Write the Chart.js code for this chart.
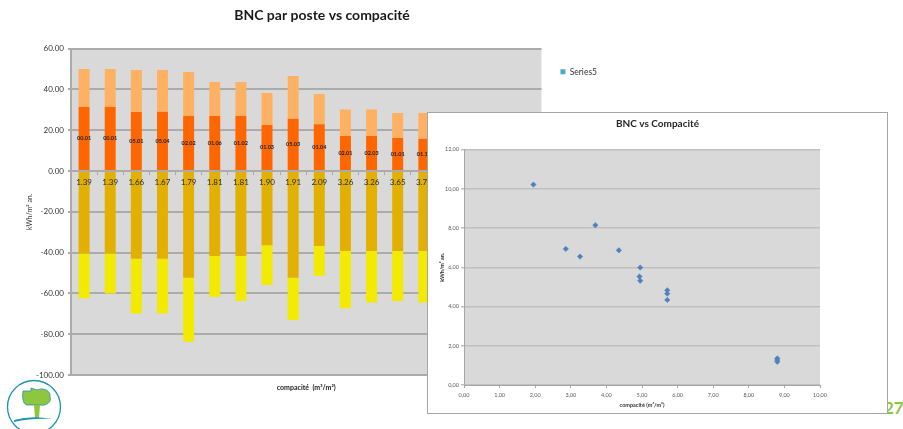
<!DOCTYPE html>
<html>
<head>
<meta charset="utf-8">
<script src="https://cdn.jsdelivr.net/npm/chart.js@4.4.1/dist/chart.umd.min.js"></script>
<style>
  html, body { margin: 0; padding: 0; background: #fff; }
  body { position: relative; width: 903px; height: 429px; overflow: hidden; font-family: Lato, "Open Sans", sans-serif; }
  #barCanvas { position: absolute; left: 0; top: 0; z-index: 0; }
  #logo { position: absolute; left: 4px; top: 378px; z-index: 1; }
  #pageNum { position: absolute; left: 884px; top: 399px; z-index: 1; font: bold 17px Lato, sans-serif; line-height: 1; color: #8DC63F; }
  #scatterBox { position: absolute; left: 427px; top: 112px; width: 459px; height: 300px; border: 1px solid #A6A6A6; background: #fff; z-index: 2; }
  #scatterCanvas { display: block; }
</style>
</head>
<body>
<canvas id="barCanvas" width="644" height="429"></canvas>

<svg id="logo" width="62" height="51" viewBox="0 0 62 51">
  <circle cx="30" cy="29" r="26.5" fill="none" stroke="#1E93AE" stroke-width="1.3"/>
  <path d="M19 13 L27 13 L27 10 L33 12 C40 9 47 13 46 19 C48 24 42 28 37 27 L23 27 C19 26 18 20 19 13 Z" fill="#8DC63F" stroke="#1E93AE" stroke-width="0.8"/>
  <path d="M30 27 L36 27 L35 40 L31 40 Z" fill="#8DC63F"/>
  <path d="M10 42 Q28 37 48 41 Q28 40 10 44 Z" fill="#1E93AE"/>
</svg>
<div id="pageNum">27</div>

<div id="scatterBox"><canvas id="scatterCanvas" width="459" height="300"></canvas></div>

<script>
// ---- BNC par poste : categories (compacité) and stacked segments (kWh/m² an.) ----
const compacite = ['1.39', '1.39', '1.66', '1.67', '1.79', '1.81', '1.81', '1.90', '1.91', '2.09',
                   '3.26', '3.26', '3.65', '3.74', '4.35', '4.95', '5.71', '8.80'];
const posteLabels = ['00.01', '00.01', '05.01', '05.04', '02.02', '01.06', '01.02', '01.03', '05.03', '01.04',
                     '02.01', '02.03', '01.01', '01.15', '03.02', '04.01', '03.05', '04.02'];
const series1 = [31.4, 31.4, 28.9, 29.0, 27.0, 27.0, 27.0, 22.5, 25.6, 22.9, 17.2, 17.2, 16.2, 15.8, 15.0, 14.2, 12.5, 8.6];
const series2 = [18.6, 18.6, 20.6, 20.5, 21.5, 16.6, 16.6, 15.7, 21.0, 14.8, 13.0, 13.0, 12.2, 12.6, 12.0, 11.4, 10.2, 6.0];
const series3 = [-40.4, -40.4, -43.0, -43.0, -52.3, -41.7, -41.7, -36.4, -52.3, -36.8, -39.2, -39.2, -39.2, -39.2, -38.0, -36.5, -34.0, -29.0];
const series4 = [-22.0, -19.6, -26.8, -26.8, -31.4, -20.1, -22.0, -19.5, -20.7, -14.5, -28.1, -25.3, -24.5, -25.3, -24.0, -22.5, -21.0, -17.0];
const barAxisMin = -100, barAxisMax = 60, barAxisStep = 20;

// ---- BNC vs Compacité : scatter points ----
const compaciteScatter = [1.95, 2.86, 3.26, 3.69, 4.35, 4.95, 4.93, 4.95, 5.71, 5.71, 5.71, 8.80, 8.80, 8.80];
const bncScatter = [10.22, 6.94, 6.55, 8.15, 6.87, 5.99, 5.53, 5.32, 4.83, 4.66, 4.34, 1.36, 1.27, 1.18];
const scatterXMin = 0, scatterXMax = 10, scatterXStep = 1;
const scatterYMin = 0, scatterYMax = 12, scatterYStep = 2;

Chart.defaults.font.family = 'Lato, "Open Sans", sans-serif';
Chart.defaults.color = '#333';

// grey plot area behind the grid
const plotBackground = {
  id: 'plotBackground',
  beforeDraw(chart, args, opts) {
    const { ctx, chartArea: a } = chart;
    ctx.save();
    ctx.fillStyle = opts.color || '#D9D9D9';
    ctx.fillRect(a.left, a.top, a.right - a.left, a.bottom - a.top);
    ctx.restore();
  }
};

// poste codes written in the middle of the first segment of each bar
const posteCodes = {
  id: 'posteCodes',
  afterDatasetsDraw(chart) {
    const meta = chart.getDatasetMeta(0);
    const ctx = chart.ctx;
    ctx.save();
    ctx.font = 'bold 5.5px Lato, sans-serif';
    ctx.fillStyle = '#222';
    ctx.textAlign = 'center';
    ctx.textBaseline = 'middle';
    meta.data.forEach((bar, i) => {
      const { x, y, base } = bar.getProps(['x', 'y', 'base'], true);
      ctx.fillText(posteLabels[i], x, (y + base) / 2);
    });
    ctx.restore();
  }
};

const gridGrey = '#ABABAB';
const fmt2 = v => Number(v).toFixed(2);
const fmt2fr = v => Number(v).toFixed(2).replace('.', ',');

new Chart(document.getElementById('barCanvas'), {
  type: 'bar',
  data: {
    labels: compacite,
    datasets: [
      { label: 'Series1', data: series1, backgroundColor: '#FF6600' },
      { label: 'Series2', data: series2, backgroundColor: '#FFB163' },
      { label: 'Series3', data: series3, backgroundColor: '#E2B000' },
      { label: 'Series4', data: series4, backgroundColor: '#F2EA00' },
      { label: 'Series5', data: [], backgroundColor: '#4BACC6' }
    ]
  },
  options: {
    responsive: false,
    animation: false,
    barPercentage: 0.525,
    categoryPercentage: 0.8,
    layout: { padding: 0 },
    plugins: {
      plotBackground: { color: '#D9D9D9' },
      tooltip: { enabled: false },
      title: {
        display: true,
        text: 'BNC par poste vs compacité',
        color: '#1a1a1a',
        font: { size: 14, weight: 'bold' },
        padding: { top: 6.6, bottom: 25.2 }
      },
      legend: {
        display: true,
        position: 'right',
        align: 'start',
        fullSize: false,
        labels: {
          filter: item => item.text === 'Series5',
          boxWidth: 5,
          boxHeight: 5,
          padding: 19,
          color: '#333',
          font: { size: 8.5 }
        }
      }
    },
    scales: {
      x: {
        stacked: true,
        position: { y: 0 },
        grid: { display: true, drawOnChartArea: false, drawTicks: true, tickLength: 3, color: gridGrey, lineWidth: 1 },
        border: { display: true, color: gridGrey, width: 2 },
        ticks: { z: 1, padding: 4, color: '#2a2a2a', font: { size: 8 }, autoSkip: false, maxRotation: 0 }
      },
      x2: {
        type: 'category',
        position: 'bottom',
        display: true,
        grid: { display: false },
        border: { display: false },
        ticks: { display: false },
        title: { display: true, text: 'compacité  (m³/m²)', color: '#222', font: { size: 7, weight: 'bold' }, padding: { top: 0, bottom: 37.2 } },
        afterFit: s => { s.height = 54; }
      },
      y: {
        stacked: true,
        min: barAxisMin,
        max: barAxisMax,
        ticks: { stepSize: barAxisStep, callback: fmt2, padding: 4, color: '#333', font: { size: 8 } },
        grid: { color: gridGrey, lineWidth: 2, tickLength: 3 },
        border: { display: true, color: gridGrey, width: 2 },
        title: { display: true, text: 'kWh/m² an.', color: '#333', font: { size: 7 }, padding: { top: 26, bottom: 0 } },
        afterFit: s => { s.width = 71; }
      },
      yRight: {
        type: 'linear',
        position: 'right',
        weight: 2000,
        display: true,
        grid: { display: false },
        border: { display: false },
        ticks: { display: false },
        afterFit: s => { s.width = 37; }
      }
    }
  },
  plugins: [plotBackground, posteCodes]
});

new Chart(document.getElementById('scatterCanvas'), {
  type: 'scatter',
  data: {
    datasets: [{
      label: 'BNC',
      data: compaciteScatter.map((x, i) => ({ x, y: bncScatter[i] })),
      pointStyle: 'rectRot',
      pointRadius: 2.7,
      borderWidth: 0.5,
      backgroundColor: '#4F81BD',
      borderColor: '#4F81BD'
    }]
  },
  options: {
    responsive: false,
    animation: false,
    layout: { padding: 0 },
    plugins: {
      plotBackground: { color: '#D9D9D9' },
      tooltip: { enabled: false },
      legend: { display: false },
      title: {
        display: true,
        text: 'BNC vs Compacité',
        color: '#262626',
        font: { size: 10, weight: 'bold' },
        padding: { top: 5, bottom: 19.7 }
      }
    },
    scales: {
      x: {
        type: 'linear',
        min: scatterXMin,
        max: scatterXMax,
        ticks: { stepSize: scatterXStep, callback: fmt2fr, padding: 3.5, color: '#595959', font: { size: 5.5 }, autoSkip: false, maxRotation: 0 },
        grid: { display: true, drawOnChartArea: false, tickLength: 3, color: '#A6A6A6' },
        border: { display: true, color: '#A6A6A6', width: 1 },
        title: { display: true, text: 'compacité (m³/m²)', color: '#333', font: { size: 5.5, weight: 'bold' }, padding: { top: 0, bottom: 4.8 } },
        afterFit: s => { s.height = 28; }
      },
      y: {
        type: 'linear',
        min: scatterYMin,
        max: scatterYMax,
        ticks: { stepSize: scatterYStep, callback: fmt2fr, padding: 2, color: '#595959', font: { size: 5.5 } },
        grid: { color: '#BFBFBF', lineWidth: 1.5, tickLength: 3 },
        border: { display: true, color: '#A6A6A6', width: 1 },
        title: { display: true, text: 'kWh/m² an.', color: '#333', font: { size: 5.5, weight: 'bold' }, padding: { top: 11, bottom: 0 } },
        afterFit: s => { s.width = 36; }
      },
      yRight: {
        type: 'linear',
        position: 'right',
        display: true,
        grid: { display: false },
        border: { display: false },
        ticks: { display: false },
        afterFit: s => { s.width = 67; }
      }
    }
  },
  plugins: [plotBackground]
});
</script>
</body>
</html>
